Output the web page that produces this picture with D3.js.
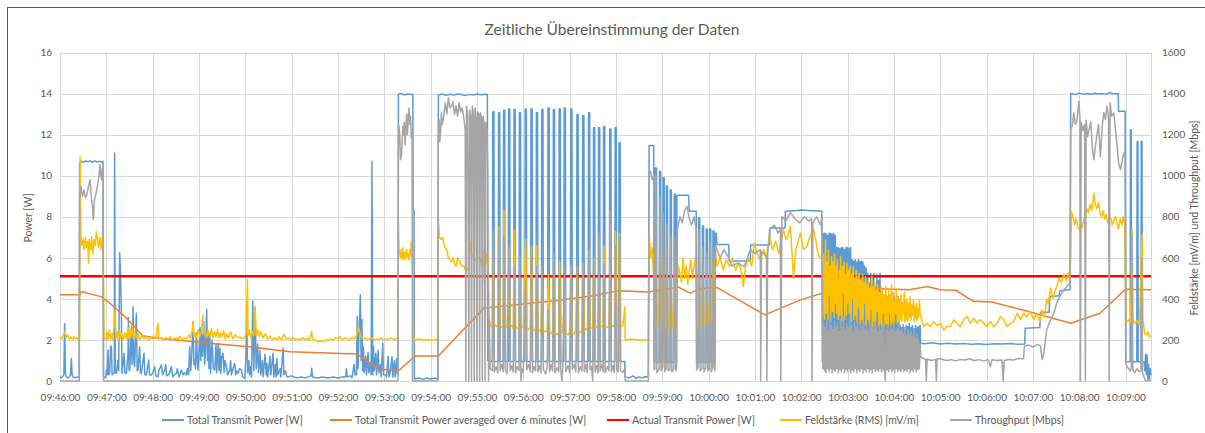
<!DOCTYPE html>
<html>
<head>
<meta charset="utf-8">
<script src="https://cdn.jsdelivr.net/npm/d3@7"></script>
<style>
body { margin: 0; background: #fff; }
svg text { font-family: Lato, "Liberation Sans", sans-serif; fill: #595959; }
</style>
</head>
<body>
<svg id="chart" width="1205" height="433"></svg>
<script>
// time is seconds after 09:46:00, power in W, field strength in mV/m, throughput in Mbps

var x_labels = ["09:46:00","09:47:00","09:48:00","09:49:00","09:50:00","09:51:00","09:52:00","09:53:00",
    "09:54:00","09:55:00","09:56:00","09:57:00","09:58:00","09:59:00","10:00:00","10:01:00","10:02:00",
    "10:03:00","10:04:00","10:05:00","10:06:00","10:07:00","10:08:00","10:09:00"];
var x_ticks = [0,60,120,180,240,300,360,420,480,540,600,660,720,780,840,900,960,1020,1080,1140,1200,1260,1320,1380];
var power_ticks = [0,2,4,6,8,10,12,14,16];
var right_ticks = [0,200,400,600,800,1000,1200,1400,1600];

var total_power = [
 [0,0.2],[2,0.15],[4,0.25],[5,0.3],[6,2.8],[7,0.4],[8,0.2],[10,0.15],[12,0.2],[13.5,0.3],[14.7,1.1],[15.7,0.3],[17,0.2],[20,0.15],[22,0.2],[24.8,0.15],
 [25.3,10.6],[27,10.72],[30,10.65],[33,10.72],[36,10.68],[39,10.72],[42,10.65],[45,10.72],[48,10.66],[51,10.7],[54,10.66],[55.7,10.7],[56.3,0.2],[58,0.15],[59.5,0.25],
 [60,0.54],[61,0.3],[62.2,1.51],[63,0.3],[64.3,0.37],[65.5,1.7],[66.5,1.67],[67.5,0.3],[68.7,0.37],[70.3,0.4],[70.8,11.1],[71.5,0.4],[73,0.37],[75.1,1.02],[76,0.5],
 [77.3,6.25],[78.5,5.0],[79.5,3.3],[80.3,0.37],[82.9,1.35],[84,0.4],[85.9,0.37],[88.1,1.35],[88.6,3.1],[89.5,0.5],[90.3,0.54],[92.4,2.65],[93.3,0.8],[94.6,3.62],
 [95.6,1.0],[96.7,0.7],[98.9,3.3],[100,0.5],[101,0.54],[103.2,1.67],[104.2,0.4],[105.4,0.37],[108.8,1.35],[110,0.3],[111.9,0.29],[114.9,1.02],[116,0.3],[118.3,0.29],
 [120,0.4],[122.7,0.7],[124,0.25],[127,0.21],[128,0.5],[131.3,0.78],[133,0.3],[135.6,0.54],[137,0.8],[138,0.25],[140,0.29],[142,0.4],[144.3,0.7],[146,0.2],[148,0.3],
 [150.7,0.37],[152,0.6],[154,0.2],[157.2,0.54],[159,0.3],[161,0.4],[163.7,0.29],[165,0.6],[166.5,0.3],[168,1.67],[169.3,0.5],[170.6,1.2],[172.3,2.9],[173.5,0.8],
 [174.5,1.02],[175.5,0.6],[176.6,2.33],[178,0.9],[178.8,0.54],[180,1.5],[181.4,2.6],[182.2,1.0],[183.1,2.49],[184.5,1.2],[186.2,2.9],[187.3,0.8],[188.3,1.35],
 [190,3.5],[191,1.0],[191.8,2.33],[193,0.6],[194,2.2],[195,0.37],[197,2.0],[198.5,0.6],[200.4,0.54],[202,1.8],[203,0.4],[204.7,1.84],[206,0.5],[207,1.6],[208.2,0.37],
 [209.5,1.2],[211.2,1.35],[212.5,0.4],[213.5,1.0],[215.5,0.7],[217,0.3],[219.9,0.54],[221,1.0],[222,0.3],[224,0.6],[226.3,0.86],[227.5,0.3],[229,0.5],[230.6,0.37],
 [232.5,0.6],[235,0.54],[236.5,0.2],[239.3,0.13],
 [241,1.3],[242,2.6],[243,0.4],[244.5,1.0],[245.5,0.3],[247,0.7],[248,0.2],[249.7,3.9],[251,0.5],[252.7,3.6],[254,0.6],[256,1.8],[257,0.4],[259,1.5],[260,0.3],
 [262,1.0],[263,0.2],[265.6,1.3],[267,0.3],[268,0.86],[269,0.2],[272,1.2],[273,0.3],[276,1.35],[277,0.2],[279,0.8],[280,0.2],[281,1.1],[282,0.3],[285,0.6],[286,0.2],
 [289,1.6],[290,0.3],[292,0.5],[294,0.2],[300,0.25],[306,0.15],[312,0.2],[318,0.15],[325,0.25],[326,0.62],[327,0.2],[333,0.15],[340,0.2],[347,0.15],[354,0.2],
 [360,0.15],[366,0.2],[370,0.2],[371,0.6],[372,0.2],[376,0.25],[378,0.15],[381,0.8],[382,0.3],[384,0.3],
 [385,3.14],[386,0.6],[387,2.0],[389,4.2],[390,1.0],[391,3.0],[392,0.5],[393,1.67],[394,0.4],[396,1.2],[397,0.3],[399,1.4],[400,0.4],[402,0.9],[403,0.3],
 [404,10.7],[405,0.3],[406,1.67],[407,0.5],[409,1.35],[410,0.3],[412,1.5],[413,0.4],[415,0.8],[416,0.2],[418,1.84],[419,0.3],[421,0.3],[423,0.2],[425,1.2],
 [426,0.2],[428,0.5],[430,1.18],[431,0.2],[433,1.0],[434,0.2],[436,1.1],[437,0.3],[437.8,0.3],
 [438.3,13.97],[442,14.0],[446,13.93],[450,13.98],[454,13.95],[457,13.97],[457.3,8.3],[458.5,8.3],[459,0.1],[465,0.15],[470,0.08],[475,0.15],[480,0.1],[485,0.15],[489.5,0.1],
 [490,13.93],[495,13.98],[500,13.92],[505,13.97],[510,13.93],[515,13.98],[520,13.95],[525,13.9],[530,13.96],[535,13.93],[540,13.98],[545,13.94],[550,13.97],[553.5,13.95],
 [554,1.0],[560,0.95],[560.5,13.12],[562,13.12],[562.5,0.95],[567.5,0.95],[568,13.06],[569.5,13.06],[570,0.95],[574,0.95],[574.5,13.19],[576,13.19],[576.5,0.95],
 [580.5,0.95],[581,13.25],[582.5,13.25],[583,0.95],[587.5,0.95],[588,13.22],[589.5,13.22],[590,0.95],[594.5,0.95],[595,13.06],[596.5,13.06],[597,0.95],
 [602,0.95],[602.5,13.25],[604,13.25],[604.5,0.95],[609.5,0.95],[610,13.25],[611.5,13.25],[612,0.95],[616.5,0.95],[617,13.06],[618.5,13.06],[619,0.95],
 [623.5,0.95],[624,13.22],[625.5,13.22],[626,0.95],[631.5,0.95],[632,13.3],[633.5,13.3],[634,0.95],[638.5,0.95],[639,13.22],[640.5,13.22],[641,0.95],
 [646,0.95],[646.5,13.25],[648,13.25],[648.5,0.95],[652.5,0.95],[653,13.3],[654.5,13.3],[655,0.95],[661,0.95],[661.5,13.25],[663,13.25],[663.5,0.95],
 [669,0.95],[669.5,12.98],[671,12.98],[671.5,0.95],[676.5,0.95],[677,12.93],[678.5,12.93],[679,0.95],[684,0.95],[684.5,13.06],[686,13.06],[686.5,0.95],
 [690.5,0.95],[691,12.33],[692.5,12.33],[693,0.95],[697,0.95],[697.5,12.33],[699,12.33],[699.5,0.95],[703.5,0.95],[704,12.4],[705.5,12.4],[706,0.95],
 [711.5,0.95],[712,12.28],[713.5,12.28],[714,0.95],[718.5,0.95],[719,12.33],[720.5,12.33],[721,0.95],[723.5,0.95],[724,11.6],[725.5,11.6],[726,0.95],
 [731.5,0.95],[732,0.2],[737,0.15],[742,0.25],[746,0.12],[750,0.2],[754,0.15],[758,0.22],[762,0.18],
 [763,11.47],[769,11.47],[769.5,0.9],[770.5,0.9],[771,10.37],[772.5,10.37],[773,0.9],[776,0.9],[776.5,10.2],[778,10.2],[778.5,0.9],[780.5,0.9],[781,9.9],[782.5,9.9],
 [783,0.9],[785,0.9],[785.3,9.5],[786.8,9.5],[787.2,0.9],[790,0.9],[790.4,9.3],[791.8,9.3],[792.2,0.9],[795,0.9],[795.5,9.1],[797,9.1],[797.5,0.9],[798.5,0.9],
 [799,9.05],[814,9.05],[815,8.27],[824,8.27],[824.5,0.9],[826.5,0.9],[827,7.95],[828.5,7.95],[829,0.9],[831.5,0.9],[832,7.55],[833.5,7.55],[834,0.9],[836.5,0.9],
 [837,7.4],[838.5,7.4],[839,0.9],[841,0.9],[841.4,7.4],[842.8,7.4],[843.2,0.9],[845.3,0.9],[845.7,7.3],[847,7.3],[847.4,0.9],[848.3,0.9],[848.7,7.2],[850,7.2],
 [850.8,6.65],[866,6.65],[866.8,5.84],[894,5.84],[894.5,6.63],[919,6.63],[919.5,7.45],[939,7.45],[939.5,8.27],[955,8.3],[960,8.33],[970,8.3],[986.7,8.27],
 [987.3,0.94],[988,7.2],[989,0.94],[990,7.2],[991,1.0],[992,7.2],[993,0.94],[994,7.1],[995,1.2],[996,7.2],[997,0.94],[998,7.2],[999,0.9],[1000,7.15],[1001,1.1],
 [1002,7.2],[1003,0.94],[1004,7.1],[1005,0.94],[1006,6.5],[1007,1.0],[1008,6.5],[1009,0.94],[1010,6.45],[1011,1.3],[1012,6.5],[1013,0.94],[1014,6.5],[1015,1.0],
 [1016,6.4],[1017,0.94],[1018,6.5],[1019,1.2],[1020,6.5],[1021,0.94],[1022,6.45],[1023,1.0],[1024,6.5],[1025,0.94],[1026,5.9],[1027,1.0],[1028,5.85],[1029,0.94],
 [1030,5.9],[1031,1.4],[1032,5.8],[1033,0.94],[1034,5.9],[1035,1.1],[1036,5.85],[1037,0.94],[1038,5.82],[1039,1.0],[1040,5.8],[1041,0.94],[1042,5.6],[1043,1.2],
 [1044,5.5],[1045,0.94],[1046,5.25],[1047,1.0],[1048,4.8],[1049,0.94],[1050,5.25],[1051,1.5],[1052,5.0],[1053,0.94],[1054,5.25],[1055,1.3],[1056,4.6],[1057,0.94],
 [1058,5.2],[1059,1.0],[1060,4.9],[1061,0.94],[1062,5.25],[1063,1.2],[1064,4.1],[1065,0.94],[1066,4.14],[1067,2.0],[1068,4.1],[1069,0.94],[1070,4.14],[1071,1.6],
 [1072,4.1],[1073,0.94],[1074,4.14],[1075,2.2],[1076,4.1],[1077,0.94],[1078,4.12],[1079,1.5],[1080,4.14],[1081,0.94],[1082,4.0],[1083,2.4],[1084,4.14],[1085,0.94],
 [1086,4.1],[1087,1.8],[1088,2.7],[1089,0.94],[1090,2.6],[1091,1.6],[1092,2.75],[1093,0.94],[1094,2.5],[1095,1.8],[1096,2.7],[1097,0.94],[1098,2.65],[1099,1.4],
 [1100,2.8],[1101,0.94],[1102,2.6],[1103,2.0],[1104,2.7],[1105,0.94],[1106,2.55],[1107,1.5],[1108,2.7],[1109,0.94],[1110,2.6],[1111,1.7],[1112,2.65],[1113,0.94],
 [1114,2.7],[1114.5,1.84],[1120,1.82],[1130,1.86],[1140,1.8],[1150,1.84],[1160,1.8],[1170,1.83],[1180,1.79],[1190,1.82],[1200,1.78],[1210,1.82],[1220,1.8],
 [1230,1.83],[1240,1.79],[1249.5,1.8],[1250,2.57],[1269,2.6],[1270,3.35],[1281,3.35],[1282,4.11],[1294,4.15],[1295,4.4],[1308.3,4.45],
 [1309,14.0],[1315,13.95],[1320,14.02],[1325,13.96],[1330,14.0],[1335,13.97],[1340,14.02],[1345,13.98],[1350,14.0],[1355,13.96],[1360,14.05],[1365,13.98],[1370.5,14.0],
 [1371,13.14],[1379.5,13.14],[1380.2,0.94],[1386,0.94],[1386.4,12.24],[1387.4,12.24],[1387.8,0.94],[1394.6,0.94],[1395,11.67],[1396,11.67],[1396.4,0.94],
 [1400,0.94],[1400.4,11.67],[1401.4,11.67],[1401.8,0.94],[1404,0.94],[1405,0.5],[1406,1.3],[1407,0.3],[1408,1.27],[1409,0.05],[1410,0.8],[1411,0.1],[1412,0.6],[1413,0.3]
];

var avg_power = [
 [0,4.2],[26,4.2],[27,4.36],[53,4.11],[62,3.87],[84,3.14],[107,2.2],[127,2.08],[170,1.92],[244,1.67],[298,1.43],[384,1.32],[402,0.86],[415,0.57],[432,0.54],
 [437,0.45],[460,1.22],[490,1.22],[549,3.55],[600,3.75],[650,3.95],[690,4.15],[723,4.39],[762,4.33],[801,4.57],[816,4.28],[829,4.5],[851,4.55],[913,3.22],
 [959,3.95],[1002,4.44],[1050,4.5],[1100,4.44],[1123,4.6],[1140,4.44],[1160,4.42],[1183,3.88],[1207,3.85],[1258,3.35],[1309,2.81],[1347,3.3],[1380,4.47],[1413,4.45]
];

var actual_power = [[0,5.1],[1413,5.1]];

var field_strength = [
 [0,215],[2,205],[4,220],[6,240],[8,210],[10,225],[12,205],[14,215],[16,200],[18,215],[20,205],[22,210],[24,200],[25.3,205],[26,1094],[27,700],[28,660],[30,690],
 [31,640],[33,700],[34,650],[36,680],[37,574],[38,690],[40,640],[41,700],[42.5,620],[44,690],[46,660],[47,728],[49,680],[50,650],[52,700],[53,640],[55,700],[56,660],
 [57,200],[59,200],[61,240],[62,200],[64,250],[65,205],[67,230],[68,200],[70,260],[71.3,346],[72.5,210],[74,240],[75,200],[77,245],[78,210],[80,230],[82,200],
 [84,235],[86,205],[88,260],[89,210],[91,250],[92,215],[94,265],[95,205],[97,240],[99,210],[101,230],[103,200],[106,220],[109,205],[112,215],[115,200],[118,210],
 [121,205],[124,215],[127,281],[128,205],[131,210],[134,200],[137,212],[140,205],[143,215],[146,200],[149,210],[152,205],[155,218],[158,200],[161,210],[164,205],
 [167,225],[169,210],[171,240],[172.3,289],[173.5,215],[175,235],[177,210],[179,250],[181,215],[183,240],[185,322],[186,230],[188,250],[190,210],[192,245],
 [194,215],[196,255],[198,210],[200,240],[202,215],[204,250],[206,210],[208,235],[210,215],[212,245],[214,205],[216,230],[218,210],[221,240],[224,205],[227,225],
 [230,210],[233,215],[236,205],[239,210],[241,230],[242.7,493],[243.5,220],[245,250],[247,210],[249,240],[251,220],[252.7,362],[254,225],[256,250],[258,215],
 [260,240],[263,210],[266,230],[269,205],[272,220],[275,200],[278,210],[281,202],[284,215],[287,200],[290,229],[293,205],[296,210],[299,200],[302,212],[305,198],
 [308,205],[311,200],[314,210],[317,202],[320,208],[323,200],[326,240],[327,205],[330,200],[333,195],[336,192],[339,196],[342,192],[345,200],[348,198],[351,205],
 [354,200],[357,210],[360,205],[363,215],[366,200],[369,210],[372,205],[375,200],[378,210],[381,205],[384,220],[386.5,265],[388,240],[390,215],[392,205],[395,210],
 [398,200],[401,205],[404,210],[407,200],[410,205],[413,200],[416,210],[419,200],[422,205],[425,200],[428,210],[431,205],[434,200],[436,210],[437.5,210],
 [438.3,777],[439,650],[440,620],[441,600],[442,640],[443,590],[444,649],[445,610],[446,590],[447,630],[448,600],[449,640],[450,605],[451,620],[452,590],[453,640],
 [454,610],[455,680],[456,600],[457,493],[458,210],[460,200],[465,205],[470,200],[475,202],[480,198],[485,200],[489,205],
 [490,794],[491,720],[492,696],[494,690],[496,700],[497,670],[499,650],[501,639],[503,600],[505,590],[507,580],[509,600],[511,570],[513,560],[515,600],[517,590],
 [519,570],[521,560],[523,560],[525,541],[527,541],[529,550],[531,680],[533,620],[535,605],[537,590],[540,590],[542,600],[544,600],[546,560],[548,640],[550,470],
 [552,620],[554,560],[555,500],[556,300],[558,265],[560,270],[561,631],[562.5,280],[565,265],[567,270],[568.5,753],[570,275],[572,260],[574,265],[575,834],
 [576.5,270],[579,260],[581.5,631],[583,265],[585,270],[587,255],[588.5,737],[590,265],[592,260],[594.5,250],[595.5,411],[597,255],[600,265],[603,688],[604.5,260],
 [607,250],[609,265],[610.5,655],[612,255],[614,245],[616,250],[617.5,660],[619,240],[621,250],[623,235],[624.5,541],[626,245],[629,240],[631,250],[632.5,517],
 [634,240],[636,230],[638,245],[639.5,540],[641,235],[644,225],[646,240],[647,582],[648.5,230],[651,240],[653.5,428],[655,230],[658,225],[660,240],[662,560],
 [663.5,235],[666,230],[668,245],[670,560],[671.5,240],[674,235],[676,250],[677.5,574],[679,245],[681,255],[683,245],[685,639],[686.5,250],[688.5,260],[690,255],
 [691.5,600],[693,260],[695,265],[697,255],[698,550],[699.5,265],[702,270],[703.5,260],[704.5,655],[706,265],[709,260],[711,270],[712.5,560],[714,265],[716,270],
 [718,260],[719.5,728],[721,265],[723,270],[724.5,720],[726,265],[729,270],[731.5,360],[732,200],[740,205],[750,200],[762,200],
 [763,720],[765,600],[767,650],[769,493],[769.5,300],[770.5,280],[771.5,650],[773,300],[775,270],[777,600],[778.5,320],[780,250],[781.5,620],[783,290],[785,260],
 [786,560],[787.5,300],[789,240],[791,540],[792.5,290],[794,260],[796,600],[797.5,320],[799,470],[801,560],[803,520],[805,480],[807,600],[809,500],[811,560],
 [813,470],[815,540],[817,590],[819,500],[821,560],[823,606],[824.5,300],[826,260],[827.5,623],[829,290],[831,250],[832.5,560],[834,300],[836,270],[837.5,600],
 [839,320],[841,280],[842,540],[843.5,310],[845,290],[846,580],[847.5,330],[849,620],[851,560],[855,600],[859,540],[863,590],[867,560],[871,600],[875,540],
 [879,580],[883,520],[885,460],[888,560],[892,600],[896,560],[899,672],[903,620],[907,590],[911,640],[915,606],[919,704],[923,640],[927,680],[931,620],[935,700],
 [937,737],[940,690],[943,710],[946,753],[950,501],[953,640],[956,680],[959,720],[963,640],[967.5,655],[971,700],[976,737],[979,680],[982.5,606],[986,600],
 [987,600],[988,320],[988.7,620],[990,300],[991.5,688],[992.2,330],[993,580],[994.5,300],[995.2,640],[996,420],[997.5,560],[998,290],[999.3,606],[1000.5,340],
 [1001,580],[1002.5,310],[1003.2,620],[1004,380],[1005.5,560],[1006,330],[1006.8,590],[1008,300],[1009.5,540],[1010.2,320],[1011,606],[1012.6,290],[1013.3,560],
 [1014,430],[1015.5,580],[1016.2,300],[1017,520],[1018.6,320],[1019.2,574],[1020,380],[1021.5,540],[1022.2,330],[1023,560],[1024.6,290],[1025.3,520],[1026,400],
 [1027.4,557],[1028.2,300],[1029,500],[1030.5,320],[1031.2,540],[1032,290],[1033.6,510],[1034.3,360],[1035,525],[1036.5,280],[1037.3,490],[1038,300],[1039.5,520],
 [1040.2,280],[1041,480],[1042.6,380],[1043.3,509],[1044,270],[1045.6,470],[1046.2,300],[1047,490],[1048.5,270],[1049.2,450],[1050,350],[1051.5,509],[1052.2,265],
 [1053,460],[1054.6,290],[1055.3,480],[1056,270],[1057.5,440],[1058.2,340],[1059,470],[1060.5,265],[1061.2,430],[1062,280],[1063.6,460],[1064.3,265],[1065,440],
 [1066.5,330],[1067.2,420],[1068,270],[1069.5,460],[1070.2,280],[1071,410],[1072.6,265],[1073.3,440],[1074,330],[1075.5,420],[1076.2,270],[1077,470],[1078.5,285],
 [1079.2,430],[1080,270],[1081.6,400],[1082.3,330],[1083,450],[1084.5,280],[1085.2,410],[1086,290],[1087.5,395],[1088.2,300],[1089,420],[1090.5,290],[1091.2,380],
 [1092,330],[1093.5,430],[1094.2,285],[1095,390],[1096.5,300],[1097.2,400],[1098,290],[1099.5,380],[1100.2,310],[1101,410],[1102.5,295],[1103.2,370],[1104,320],
 [1105.5,395],[1106.2,290],[1107,360],[1108.5,300],[1109.2,380],[1110,295],[1111.5,350],[1112.2,310],[1113,395],[1114,330],
 [1116,298],[1118.6,265],[1122.9,281],[1127.2,265],[1131.6,289],[1135.9,270],[1140.2,281],[1144.5,249],[1148.8,265],[1153.2,265],[1157.5,298],[1161.8,281],
 [1166.1,265],[1170.4,298],[1174.8,314],[1179.1,281],[1183.4,306],[1187.7,281],[1192,298],[1196.4,281],[1200.7,265],[1205,289],[1209.3,265],[1213.6,281],
 [1218,314],[1222.3,298],[1226.6,265],[1230.9,281],[1235.2,289],[1239.6,330],[1244,298],[1248,330],[1252,310],[1256,340],[1261,300],[1265,330],[1269,290],
 [1272,346],[1275,310],[1278,400],[1280,380],[1283,452],[1286,400],[1288,430],[1291,460],[1294,500],[1297,480],[1300,520],[1303,490],[1306,525],[1308,500],
 [1309,600],[1310,826],[1312,800],[1314,760],[1316,790],[1318,750],[1320,737],[1322,770],[1324,745],[1326,790],[1328,800],[1330,840],[1332,820],[1334,860],
 [1336,830],[1338,880],[1339,915],[1341,860],[1343,840],[1345,870],[1347,820],[1349,800],[1351,830],[1353,790],[1355,810],[1357,770],[1359,800],[1361,790],
 [1363,760],[1365,780],[1367,800],[1369,770],[1371,740],[1373,790],[1375,760],[1377,800],[1379,760],[1380.5,300],[1383,290],[1385,300],[1386.5,285],[1388.6,737],
 [1389.5,300],[1392,280],[1395,295],[1398,270],[1401.5,712],[1402.5,300],[1405,230],[1407,225],[1409,240],[1411,215],[1413,220]
];

var throughput = [
 [0,0],[25,0],[25.6,900],[27,950],[29,900],[31,930],[33,893],[35,910],[37,950],[39,980],[40.5,900],[42,850],[43.2,785],[44.5,880],[46,900],[47.5,931],[49,960],
 [50.5,1000],[51.8,1054],[53,1000],[54,980],[55,1040],[55.8,1000],[56.3,0],[437.8,0],
 [438.3,1249],[439,1240],[440,1200],[441,1078],[442,1094],[443,1150],[444,1240],[445,1200],[446,1260],[447,1150],[448,1240],[449,1300],[450,1200],[451,1280],
 [452,1330],[453,1250],[454,1290],[455,1180],[456,1220],[456.5,0],[489.5,0],
 [490,1176],[491,1273],[492,1165],[493,1220],[494,1306],[495,1250],[497,1290],[499,1355],[501,1300],[503,1379],[505,1330],[507,1338],[509,1360],[511,1300],
 [513,1340],[515,1290],[517,1355],[519,1310],[521,1330],[523,1280],[524.8,1224],[525.6,0],[526.5,1338],[528,1300],[529.5,0],[530.5,1320],[532,1290],[533,0],
 [534,1340],[535.5,1300],[536.5,0],[537.5,1330],[539,1290],[540,0],[541,1310],[542.5,1300],[543.5,0],[544.5,1306],[546,1280],[547,0],[548,1290],[549.5,1250],
 [550.5,0],[551.5,1260],[553,1224],[554,1029],[555,0],[556,300],[557,60],[560,50],[561,737],[562.5,45],[565,70],[567,40],[568.5,753],[570,50],[572,80],[574,45],
 [575,704],[576.5,60],[579,35],[581.5,655],[583,50],[585,75],[587,45],[588.5,558],[590,40],[592,70],[594.5,50],[595.5,606],[597,0],[598,60],[600,40],[603,520],
 [604.5,55],[607,80],[609,45],[610.5,606],[612,40],[614,70],[616,50],[617.5,560],[619,45],[621,75],[623,40],[624.5,558],[626,55],[629,35],[631,70],[632.5,346],
 [634,45],[636,80],[638,50],[639.5,623],[641,40],[644,65],[646,45],[647,493],[648.5,60],[650,0],[651,50],[653.5,540],[655,45],[658,75],[660,40],[662,558],
 [663.5,55],[666,80],[668,45],[670,560],[671.5,40],[674,70],[676,50],[677.5,574],[679,45],[681,80],[683,40],[685,639],[686.5,55],[688.5,70],[690,0],[691.5,600],
 [693,45],[695,75],[697,40],[698,720],[699.5,50],[702,80],[703.5,45],[704.5,570],[706,40],[709,70],[711,50],[712.5,826],[714,45],[716,75],[718,40],[719.5,660],
 [721,55],[723,45],[724.5,700],[726,50],[729,40],[731.5,60],[732,0],[762,0],
 [763,1013],[765,1021],[767,980],[769,1005],[769.5,54],[770.5,60],[771.5,1005],[773,40],[776,60],[777,899],[778.5,50],[780.5,70],[781.5,818],[783,45],[785,60],
 [786,760],[787.5,50],[790,55],[791,704],[792.5,45],[795,60],[796,690],[797.5,50],[798.5,60],[799.5,737],[803,800],[806,770],[809,830],[812,850],[815,790],
 [818,760],[821,800],[824,740],[824.5,54],[826.5,70],[827.5,737],[829,50],[831.5,60],[832.5,650],[834,45],[836.5,65],[837.5,630],[839,50],[841,60],[842,680],
 [843.5,45],[845.3,70],[846,650],[847.5,50],[848.3,60],[849,663],[850.8,639],[855,600],[860,639],[866,600],[870,560],[878,574],[886,557],[894,639],[900,620],
 [907,640],[907.5,0],[908.5,630],[912,620],[915,600],[915.5,0],[916.5,620],[919,737],[925,760],[930,720],[933,740],[933.5,0],[935,801],[940,780],[946,820],
 [952,790],[958,770],[964,800],[970,780],[973.5,790],[974,0],[975,770],[980,800],[985,760],[987,801],[987.5,541],
 [988,60],[989,280],[990,50],[991,260],[992,40],[993,300],[994,60],[995,250],[996,45],[997,314],[998,60],[999,270],[1000,40],[1001,250],[1002,55],[1003,290],
 [1004,45],[1005,260],[1006,60],[1007,280],[1008,40],[1009,240],[1010,55],[1011,300],[1012,45],[1013,260],[1014,60],[1015,314],[1016,40],[1017,250],[1018,55],
 [1019,280],[1020,45],[1021,260],[1022,60],[1023,300],[1024,40],[1025,270],[1026,55],[1027,240],[1028,45],[1029,290],[1030,60],[1031,260],[1032,40],[1033,310],
 [1034,55],[1035,250],[1036,45],[1037,280],[1038,60],[1039,260],[1040,40],[1041,290],[1042,55],[1043,250],[1044,45],[1045,270],[1046,60],[1047,240],[1048,45],
 [1049,280],[1050,55],[1051,260],[1052,40],[1053,250],[1054,60],[1055,290],[1056,45],[1057,260],[1058,55],[1059,240],[1060,45],[1061,270],[1062,60],[1063,250],
 [1064,45],[1065,260],[1066,55],[1067,280],[1068,40],[1069,0],[1070,250],[1071,55],[1072,270],[1073,45],[1074,240],[1075,60],[1076,260],[1077,45],[1078,250],
 [1079,55],[1080,280],[1081,40],[1082,240],[1083,60],[1084,250],[1085,45],[1086,270],[1087,55],[1088,240],[1089,45],[1090,250],[1091,60],[1092,230],[1093,45],
 [1094,260],[1095,55],[1096,220],[1097,45],[1098,250],[1099,60],[1100,230],[1101,40],[1102,240],[1103,55],[1104,220],[1105,45],[1106,250],[1107,60],[1108,210],
 [1109,45],[1110,230],[1111,55],[1112,200],[1113,60],[1114,180],[1115,115],
 [1118,110],[1121,105],[1122,0],[1123,108],[1128,100],[1134,105],[1135,0],[1136,110],[1142,106],[1148,100],[1154,104],[1160,98],[1166,105],[1172,102],[1178,108],
 [1184,100],[1190,104],[1196,98],[1202,103],[1205,70],[1207,104],[1213,100],[1220,102],[1221.5,0],[1223,100],[1229,105],[1235,102],[1241,110],[1247,108],
 [1248,110],[1249,170],[1255,175],[1260,165],[1266,178],[1270,170],[1272,105],[1274,130],[1278,250],[1282,290],[1287,330],[1291,380],[1296,420],[1300,440],
 [1304,460],[1308,480],[1309,1230],[1311,1240],[1313,1306],[1315,1250],[1317,1265],[1319.5,1362],[1321,1280],[1321.6,0],[1322.6,1260],[1325,1220],[1327,1250],
 [1328,0],[1329,1270],[1331,1190],[1333,1230],[1335,1260],[1337,1140],[1339,1078],[1341,1143],[1343,1200],[1345,1250],[1347.5,1094],[1350,1250],[1352,1306],
 [1354,1273],[1356,1338],[1358,1280],[1358.8,0],[1360,1355],[1362,1290],[1364.8,1306],[1367,1224],[1369,1150],[1371,1062],[1373.5,1029],[1376,1080],[1378,1111],
 [1379.5,1090],[1380.5,86],[1382,70],[1384,60],[1386,50],[1387.5,60],[1388.6,700],[1389.5,55],[1392,40],[1395,60],[1398,45],[1400,50],[1401,600],[1402,40],
 [1404,20],[1406,0],[1410,0],[1413,5]
];

var W = 1205, H = 433;
var plot = {left: 60, right: 1151, top: 52.5, bottom: 381};

var svg = d3.select("#chart");
svg.append("rect").attr("width", W).attr("height", H).attr("fill", "#fff");

// outer chart frame (only top and left edges are inside the picture)
svg.append("rect")
    .attr("x", 7.5).attr("y", 7.5)
    .attr("width", 1220).attr("height", 440)
    .attr("fill", "none").attr("stroke", "#595959").attr("stroke-width", 1);

var x = d3.scaleLinear().domain([0, 1413]).range([plot.left, plot.right]);
var y_power = d3.scaleLinear().domain([0, 16]).range([plot.bottom, plot.top]);
var y_right = d3.scaleLinear().domain([0, 1600]).range([plot.bottom, plot.top]);

// grid
var grid = svg.append("g").attr("stroke", "#d9d9d9").attr("stroke-width", 1);
grid.selectAll(".hgrid").data(power_ticks).enter().append("line")
    .attr("x1", plot.left).attr("x2", plot.right)
    .attr("y1", function(d){ return Math.round(y_power(d)) + 0.5; })
    .attr("y2", function(d){ return Math.round(y_power(d)) + 0.5; });
grid.selectAll(".vgrid").data(x_ticks.concat([1413])).enter().append("line")
    .attr("y1", plot.top).attr("y2", plot.bottom)
    .attr("x1", function(d){ return Math.round(x(d)) + 0.5; })
    .attr("x2", function(d){ return Math.round(x(d)) + 0.5; });

// axes (labels only)
var style_axis = function(g){
    g.select(".domain").remove();
    g.selectAll(".tick line").remove();
    g.selectAll("text").attr("fill", "#595959")
        .style("font-size", "10px");
};

svg.append("g")
    .attr("transform", "translate(" + plot.left + ",0)")
    .call(d3.axisLeft(y_power).tickValues(power_ticks).tickSize(0).tickPadding(8))
    .call(style_axis);

svg.append("g")
    .attr("transform", "translate(" + plot.right + ",0)")
    .call(d3.axisRight(y_right).tickValues(right_ticks).tickSize(0).tickPadding(11)
          .tickFormat(d3.format("d")))
    .call(style_axis);

svg.append("g")
    .attr("transform", "translate(0," + plot.bottom + ")")
    .call(d3.axisBottom(x).tickValues(x_ticks).tickSize(0).tickPadding(13)
          .tickFormat(function(d, i){ return x_labels[i]; }))
    .call(style_axis);

// titles
svg.append("text")
    .attr("x", 612).attr("y", 35)
    .attr("text-anchor", "middle")
    .style("font-size", "15.5px")
    .text("Zeitliche Übereinstimmung der Daten");

svg.append("text")
    .attr("transform", "translate(32,218) rotate(-90)")
    .attr("text-anchor", "middle")
    .style("font-size", "10.5px")
    .text("Power [W]");

svg.append("text")
    .attr("transform", "translate(1198,218) rotate(-90)")
    .attr("text-anchor", "middle")
    .style("font-size", "10.5px")
    .text("Feldstärke [mV/m] und Throughput [Mbps]");

// series, drawn in Excel order (primary axis first, secondary on top)
var series = [
    {name: "Total Transmit Power [W]", data: total_power, y: y_power, color: "#5b9bd5", width: 1.5, lx: 162},
    {name: "Total Transmit Power averaged over 6 minutes [W]", data: avg_power, y: y_power, color: "#ed7d31", width: 1.5, lx: 330},
    {name: "Actual Transmit Power [W]", data: actual_power, y: y_power, color: "#ff0000", width: 2.5, lx: 607},
    {name: "Feldstärke (RMS) [mV/m]", data: field_strength, y: y_right, color: "#ffc000", width: 1.5, lx: 780},
    {name: "Throughput [Mbps]", data: throughput, y: y_right, color: "#a5a5a5", width: 1.5, lx: 950}
];

var lines = svg.append("g");
series.forEach(function(s){
    var line = d3.line()
        .x(function(d){ return x(d[0]); })
        .y(function(d){ return s.y(d[1]); });
    lines.append("path")
        .datum(s.data)
        .attr("fill", "none")
        .attr("stroke", s.color)
        .attr("stroke-width", s.width)
        .attr("stroke-linejoin", "round")
        .attr("d", line);
});

// legend
var legend = svg.append("g");
series.forEach(function(s){
    legend.append("line")
        .attr("x1", s.lx).attr("x2", s.lx + 22)
        .attr("y1", 420).attr("y2", 420)
        .attr("stroke", s.color).attr("stroke-width", 2);
    legend.append("text")
        .attr("x", s.lx + 25).attr("y", 423.5)
        .style("font-size", "10.5px")
        .text(s.name);
});
</script>
</body>
</html>
